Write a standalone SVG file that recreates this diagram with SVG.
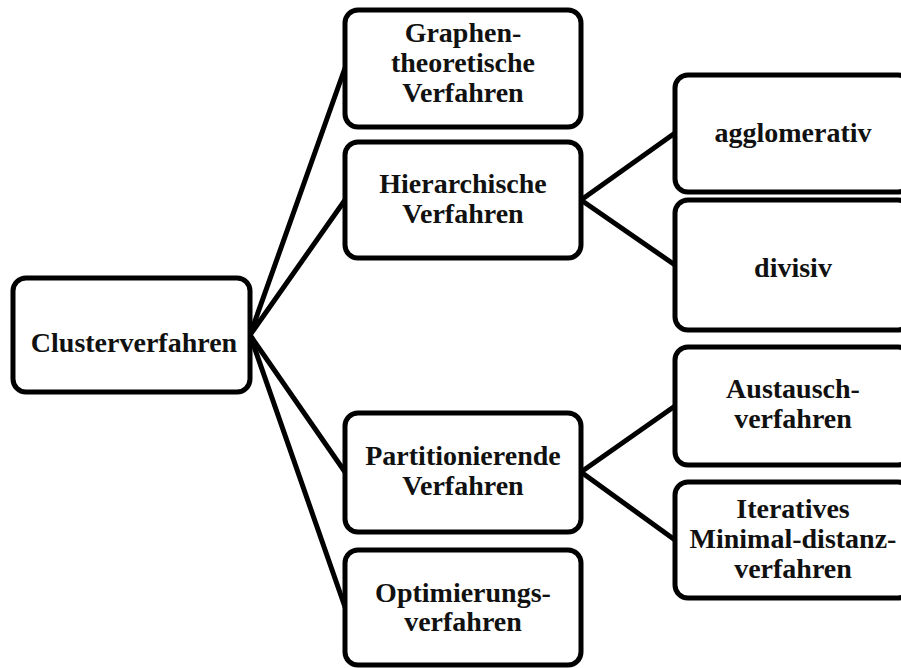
<svg xmlns="http://www.w3.org/2000/svg" width="901" height="668" viewBox="0 0 901 668">
  <style>
    .box { fill: #ffffff; stroke: #000000; stroke-width: 5; }
    .edge { fill: none; stroke: #000000; stroke-width: 5; stroke-linecap: round; }
    text { font-family: "Liberation Serif", "DejaVu Serif", serif; font-weight: bold; font-size: 28px; fill: #111111; text-anchor: middle; }
  </style>
  <rect width="901" height="668" fill="#ffffff"/>

  <g id="connectors">
    <line class="edge" x1="250" y1="335" x2="345" y2="68"/>
    <line class="edge" x1="250" y1="335" x2="345" y2="200"/>
    <line class="edge" x1="250" y1="335" x2="345" y2="472"/>
    <line class="edge" x1="250" y1="335" x2="345" y2="607"/>
    <line class="edge" x1="581" y1="200" x2="675" y2="133"/>
    <line class="edge" x1="581" y1="200" x2="675" y2="265"/>
    <line class="edge" x1="581" y1="472" x2="675" y2="406"/>
    <line class="edge" x1="581" y1="472" x2="675" y2="540"/>
  </g>

  <g id="clusterverfahren">
    <rect class="box" x="13" y="278" width="237" height="114" rx="13"/>
    <text x="134" y="352">Clusterverfahren</text>
  </g>

  <g id="graphentheoretische">
    <rect class="box" x="345" y="10" width="236" height="117" rx="13"/>
    <text x="463" y="42">Graphen-</text>
    <text x="463" y="72">theoretische</text>
    <text x="463" y="102">Verfahren</text>
  </g>

  <g id="hierarchische">
    <rect class="box" x="345" y="142" width="236" height="116" rx="13"/>
    <text x="463" y="193">Hierarchische</text>
    <text x="463" y="223">Verfahren</text>
  </g>

  <g id="partitionierende">
    <rect class="box" x="345" y="413" width="236" height="119" rx="13"/>
    <text x="463" y="465">Partitionierende</text>
    <text x="463" y="495">Verfahren</text>
  </g>

  <g id="optimierung">
    <rect class="box" x="345" y="550" width="236" height="115" rx="13"/>
    <text x="463" y="602">Optimierungs-</text>
    <text x="463" y="631">verfahren</text>
  </g>

  <g id="agglomerativ">
    <rect class="box" x="675" y="75" width="236" height="117" rx="13"/>
    <text x="793" y="142">agglomerativ</text>
  </g>

  <g id="divisiv">
    <rect class="box" x="675" y="200" width="236" height="130" rx="13"/>
    <text x="793" y="277">divisiv</text>
  </g>

  <g id="austausch">
    <rect class="box" x="675" y="347" width="236" height="118" rx="13"/>
    <text x="793" y="398">Austausch-</text>
    <text x="793" y="428">verfahren</text>
  </g>

  <g id="iteratives">
    <rect class="box" x="675" y="482" width="236" height="116" rx="13"/>
    <text x="793" y="518">Iteratives</text>
    <text x="793" y="548">Minimal-distanz-</text>
    <text x="793" y="578">verfahren</text>
  </g>
</svg>
